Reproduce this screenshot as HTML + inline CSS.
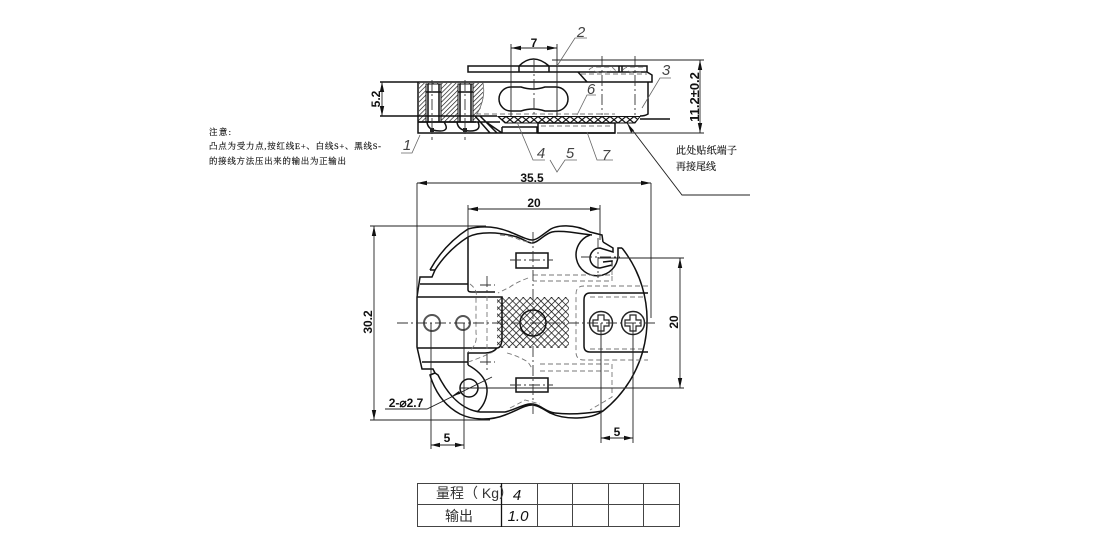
<!DOCTYPE html>
<html><head><meta charset="utf-8"><style>
html,body{margin:0;padding:0;background:#fff;width:1100px;height:550px;overflow:hidden}
svg{display:block}
text{font-family:"Liberation Sans","Noto Sans CJK SC",sans-serif;fill:#111}
.cn{font-family:"Liberation Serif","Noto Serif CJK SC",serif;font-size:8.5px;fill:#111;stroke:#111;stroke-width:.15}
.cb{font-family:"Liberation Serif","Noto Serif CJK SC",serif;font-size:10px;fill:#111;stroke:#111;stroke-width:.15}
.d{font-size:12px;font-weight:bold;text-anchor:middle}
.l{font-size:15px;font-style:italic;text-anchor:middle;fill:#444}
.o{fill:none;stroke:#111;stroke-width:1.5}
.t{fill:none;stroke:#222;stroke-width:.9}
.g{fill:none;stroke:#666;stroke-width:.8}
.h{fill:none;stroke:#777;stroke-width:.9;stroke-dasharray:5 3}
.c{fill:none;stroke:#333;stroke-width:.9;stroke-dasharray:11 3 2 3}
.ah{fill:#111;stroke:none}
</style></head><body>
<svg width="1100" height="550" viewBox="0 0 1100 550" xmlns="http://www.w3.org/2000/svg">
<defs>
<pattern id="x" width="5" height="5" patternUnits="userSpaceOnUse" patternTransform="rotate(45)"><rect width="5" height="5" fill="#fff"/><path d="M0 0H5M0 0V5" stroke="#111" stroke-width="1.4"/></pattern>
<pattern id="h" width="3.2" height="3.2" patternUnits="userSpaceOnUse" patternTransform="rotate(-45)"><path d="M0 0H3.2" stroke="#111" stroke-width="1.3"/></pattern>
<pattern id="z" width="8" height="6.5" patternUnits="userSpaceOnUse" patternTransform="translate(498 116.5)"><rect width="8" height="6.5" fill="#fff"/><path d="M0 0L8 6.5M8 0L0 6.5" stroke="#111" stroke-width="1.2"/></pattern>
</defs>

<!-- SIDE VIEW -->
<rect x="419" y="83" width="64" height="33" fill="url(#h)"/>
<path d="M483 82Q486 100 477 116H490V82Z" fill="#fff"/>
<path d="M483 83Q486 98 477 114" class="g"/>
<rect x="418" y="116" width="58" height="6" fill="url(#h)"/>
<rect x="426" y="84" width="15" height="38" fill="#fff" stroke="#111"/>
<rect x="458" y="84" width="15" height="38" fill="#fff" stroke="#111"/>
<path d="M428 84V122M439 84V122M460 84V122M471 84V122M426 92H441M458 92H473" class="o" stroke-width="1"/>
<path d="M418 82V133H615M418 82H652V75L647 72H468V66H647V72M468 66V72M519 66Q533 52 549 66" class="o"/>
<path d="M380 82H418M380 116H476M476 116H497M648 82V114Q645 116 640 116" class="o"/>
<path d="M578 72L587 82M519 66V72M549 66V72M619 66V72M622 66V72M476 122H418" class="o"/>
<path d="M418 122H500M475 116L490 133M480 116L497 133M486 122L502 133" class="o" stroke-width="1.1"/>
<path d="M502 127H537V133M502 127V133" class="o"/>
<path d="M427 122Q428 131 440 131Q450 131 444 122M457 122Q458 131 470 131Q482 131 478 122" class="o" stroke-width="1.2"/>
<rect x="430" y="128" width="4" height="4" fill="#222"/><rect x="463" y="128" width="4" height="4" fill="#222"/>
<path d="M499 99A12 12 0 0 1 511 87H521Q533 91 545 87H556A12 12 0 0 1 556 111H545Q533 107 521 111H511A12 12 0 0 1 499 99Z" class="o"/>
<path d="M498 116.5L505 123H635L640 116.5Z" fill="url(#z)" stroke="#111" stroke-width="1"/>
<path d="M640 119H670" class="o" stroke-width="1.6"/>
<path d="M538 123H615V133H538Z" class="o" fill="#fff"/>
<path d="M541 126H612" class="h"/>
<path d="M476 114H615" class="h"/>
<path d="M581 74H647M589 70Q591 67 596 67H612L617 72M623 70Q625 67 630 67H646M594 71Q602 74 611 71M628 71Q636 74 645 71" class="h" stroke-width=".8"/>
<path d="M534 60V115M602 56V115M635 56V115M432 80V140M465 80V140" class="c"/>
<path d="M617 133H704M552 60H704" class="t"/>
<path d="M511 44V116M557 44V116M511 48H557" class="t"/>
<path d="M511 48l10-2.2v4.4zM557 48l-10-2.2v4.4z" class="ah"/>
<path d="M700 60V133" class="t"/>
<path d="M700 60l-2.2 10h4.4zM700 133l-2.2-10h4.4z" class="ah"/>
<path d="M382 82V116" class="t"/>
<path d="M382 82l-2.2 10h4.4zM382 116l-2.2-10h4.4z" class="ah"/>
<text class="d" x="534" y="47" font-size="12">7</text>
<text class="d" transform="translate(380,99) rotate(-90)" style="font-size:12px">5.2</text>
<text class="d" transform="translate(699,97) rotate(-90)" style="font-size:13px">11.2±0.2</text>
<!-- leaders -->
<path d="M557 66L575 38H587M642 108L660 78H671M577 115L587 95H596M420 135L412 153H401M517 122L533 160H545M550 160L557 172L565 160H577M587 132L597 160H613" class="g"/>
<text class="l" x="581" y="37">2</text><text class="l" x="666" y="75">3</text><text class="l" x="591" y="94">6</text><text class="l" x="407" y="150">1</text><text class="l" x="541" y="158">4</text><text class="l" x="570" y="158">5</text><text class="l" x="606" y="160">7</text>
<path d="M627 123L682 195H750" class="t" stroke-width="1.1"/>
<path d="M627 123l7 7.5-3 2.2z" class="ah"/>
<text class="cb" x="676" y="154" textLength="61">此处贴纸端子</text>
<text class="cb" x="676" y="170" textLength="40">再接尾线</text>
<text class="cn" x="209" y="135" textLength="22">注意:</text>
<text class="cn" x="209" y="149" textLength="172">凸点为受力点,按红线E+、白线S+、黑线S-</text>
<text class="cn" x="209" y="164" textLength="137">的接线方法压出来的输出为正输出</text>

<!-- TOP VIEW -->
<rect x="497" y="297" width="72" height="51" fill="url(#x)"/>
<circle cx="533" cy="323" r="13" fill="#fff" class="o"/>
<!-- top lobes -->
<path d="M603 242L602 235L590 232C575 224 556 224 548 231C542 235 537 240 532 240C527 240 518 235 510 232C495 226 480 226 468 229A115 115 0 0 0 430 270" class="o"/>
<path d="M435 270A108 108 0 0 1 468 237C480 231 500 232 517 237C525 240 528 243 532 243C538 243 544 234 552 232C560 230 575 233 592 235" class="o" stroke-width="1.3"/>
<!-- hook -->
<path d="M590 235A21 21 0 1 0 618 256V248H622" class="o" stroke-width="1.3"/>
<path d="M603 242L613 248V252L600 248A10 10 0 0 0 600 268L612 265V261L603 262" class="o" stroke-width="1.3"/>
<!-- right arc + bottom -->
<path d="M622 248A116 116 0 0 1 603 411C590 420 565 420 550 413C543 409 537 405 532 405C525 405 518 410 505 415C490 421 472 420 460 414C445 406 435 392 430 375L435 373L438 375C448 395 462 410 480 412H505C515 410 525 403 532 404C540 404 545 412 555 413C570 415 590 413 603 411" class="o"/>
<path d="M468 365Q488 376 487 392Q486 404 477 412" class="o"/>
<path d="M430 270L435 270L432 277H420L417 297V347L422 369H433L435 373" class="o"/>
<path d="M420 284H468M417 297H502V340Q501 348 497 348H417M497 348Q493 353 485 353H468V365M422 362H468" class="o"/>
<path d="M468 237V290Q468 292 472 292H495" class="o" stroke="#444" stroke-width="1.7"/>
<rect x="516" y="253" width="32" height="15" class="o" fill="#fff"/>
<rect x="516" y="378" width="32" height="14" class="o" fill="#fff"/>
<path d="M648 293H590Q584 293 584 300V346Q584 352 590 352H648" class="o"/>
<path d="M648 286H584Q576 286 576 294V352Q576 360 584 360H648M590 297H646M590 349H646" class="h"/>
<path d="M533 275H612V281H533M612 262V281M540 364H612V397L590 410M540 371H612M528 278Q515 283 510 287Q502 291 498 293M500 235Q512 236 520 240L532 243M470 284Q478 290 476 298V333Q478 345 468 352M487 296V352M468 362Q480 358 493 352M507 353Q518 356 528 362L533 370M510 408Q518 404 525 400L540 404" class="h"/>
<circle cx="432" cy="323" r="8" fill="#fff" stroke="#555" stroke-width="2"/>
<circle cx="463" cy="323" r="7" fill="#fff" stroke="#555" stroke-width="2"/>
<g class="o" stroke-width="1.3">
<circle cx="601" cy="323" r="11.5" fill="#fff" stroke="#222" stroke-width="1.5"/><circle cx="633" cy="323" r="11.5" fill="#fff" stroke="#222" stroke-width="1.5"/>
<path d="M598 315H604V320H609V326H604V331H598V326H593V320H598ZM630 315H636V320H641V326H636V331H630V326H625V320H630Z" fill="none" stroke="#222" stroke-width="1.2"/>
</g>
<circle cx="469" cy="388" r="9" class="o" stroke-width="1.2"/>
<path d="M397 323H655M533 232V416M510 260H553M510 385H553M581 257H620M598 238V278M487 276V294M480 285H495M487 354V370M480 362H495" class="c"/>
<!-- dims -->
<path d="M417 183V320M651 183V318M417 183H651" class="t"/>
<path d="M417 183l10-2.2v4.4zM651 183l-10-2.2v4.4z" class="ah"/>
<text class="d" x="532" y="182">35.5</text>
<path d="M468 205V238M600 205V240M468 209H600" class="t"/>
<path d="M468 209l10-2.2v4.4zM600 209l-10-2.2v4.4z" class="ah"/>
<text class="d" x="534" y="207">20</text>
<path d="M370 226H486M370 420H490M374 226V420" class="t"/>
<path d="M374 226l-2.2 10h4.4zM374 420l-2.2-10h4.4z" class="ah"/>
<text class="d" transform="translate(372,322) rotate(-90)">30.2</text>
<path d="M598 258H684M460 388H684M680 258V388" class="t"/>
<path d="M680 258l-2.2 10h4.4zM680 388l-2.2-10h4.4z" class="ah"/>
<text class="d" transform="translate(678,322) rotate(-90)">20</text>
<path d="M431 323V449M464 323V449M431 445H464" class="t"/>
<path d="M431 445l9-2.2v4.4zM464 445l-9-2.2v4.4z" class="ah"/>
<text class="d" x="447" y="442">5</text>
<path d="M601 323V443M633 323V443M601 438H633" class="t"/>
<path d="M601 438l9-2.2v4.4zM633 438l-9-2.2v4.4z" class="ah"/>
<text class="d" x="617" y="436">5</text>
<path d="M385 409H427L492 377" class="t"/>
<path d="M452 396l7-5 1.7 2.8z" class="ah"/>
<text class="d" x="406" y="407" style="font-size:12px">2-⌀2.7</text>

<!-- TABLE -->
<g fill="none" stroke="#444" stroke-width="1">
<rect x="417.500" y="483.500" width="262" height="43"/>
<path d="M417 504.500H680M501.500 483V527M537.500 483V527M572.500 483V527M608.500 483V527M643.500 483V527"/>
</g>
<path d="M501.500 483V527" stroke="#111" stroke-width="1.3"/>
<text x="436" y="498" font-size="14" style="fill:#333">量程（ Kg）</text>
<text x="517" y="500" font-size="15" text-anchor="middle" font-style="italic">4</text>
<text x="459" y="521" font-size="14" text-anchor="middle" style="fill:#333">输出</text>
<text x="518" y="521" font-size="15" text-anchor="middle" font-style="italic">1.0</text>
</svg>
</body></html>
